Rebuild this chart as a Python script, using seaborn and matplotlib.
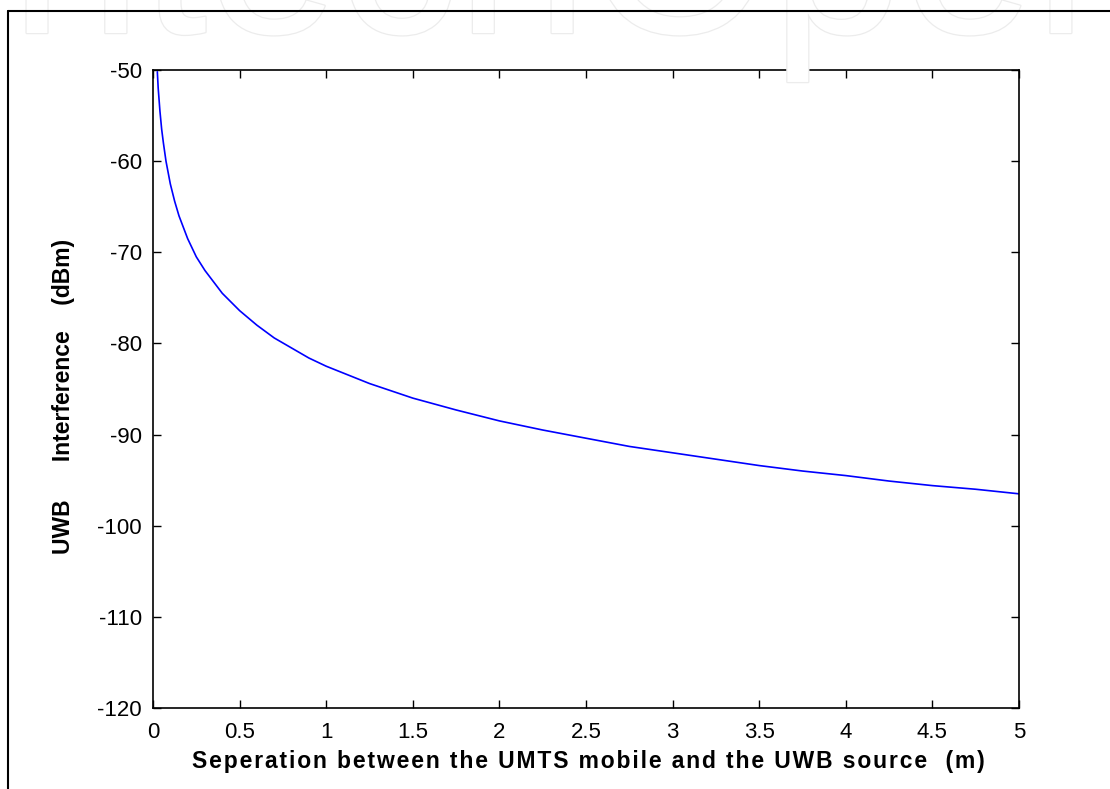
import matplotlib
matplotlib.use("Agg")
import matplotlib.pyplot as plt
import matplotlib.patheffects as pe
import seaborn as sns
import pandas as pd
from matplotlib.lines import Line2D

# Data
separation_m = [0.025, 0.03, 0.04, 0.05, 0.06, 0.075, 0.1, 0.125, 0.15, 0.2, 0.25,
                0.3, 0.4, 0.5, 0.6, 0.7, 0.8, 0.9, 1.0, 1.25, 1.5, 1.75, 2.0,
                2.25, 2.5, 2.75, 3.0, 3.25, 3.5, 3.75, 4.0, 4.25, 4.5, 4.75, 5.0]
interference_dbm = [-50.2, -52.0, -54.5, -56.5, -58.0, -60.0, -62.5, -64.4, -66.0,
                    -68.5, -70.5, -72.0, -74.5, -76.4, -78.0, -79.4, -80.5, -81.6,
                    -82.5, -84.4, -86.0, -87.3, -88.5, -89.5, -90.4, -91.3, -92.0,
                    -92.7, -93.4, -94.0, -94.5, -95.1, -95.6, -96.0, -96.5]
x_ticks = [0, 0.5, 1, 1.5, 2, 2.5, 3, 3.5, 4, 4.5, 5]
x_tick_labels = ["0", "0.5", "1", "1.5", "2", "2.5", "3", "3.5", "4", "4.5", "5"]
y_ticks = [-120, -110, -100, -90, -80, -70, -60, -50]
y_tick_labels = ["-120", "-110", "-100", "-90", "-80", "-70", "-60", "-50"]
x_label = "Seperation between the UMTS mobile and the UWB source  (m)"
y_label = "UWB      Interference    (dBm)"


def spaced(text, gap):
    if not gap:
        return text
    return gap.join(text)


sns.set_theme(style="ticks")
plt.rcParams["font.family"] = ["Liberation Sans", "DejaVu Sans"]

W, H = 1110, 789
fig = plt.figure(figsize=(W / 100, H / 100), dpi=100)

# faint watermark at the top
fig.text(0.5, 1 - 33 / H, "IntechOpen", ha="center", va="baseline",
         fontsize=170, color="white", zorder=0,
         path_effects=[pe.withStroke(linewidth=1.8, foreground="#ececec")])

# outer frame lines (left and top)
fig.add_artist(Line2D([8 / W, 8 / W], [0, 1 - 11 / H], transform=fig.transFigure,
                      color="black", lw=1.5))
fig.add_artist(Line2D([8 / W, 1], [1 - 11 / H, 1 - 11 / H], transform=fig.transFigure,
                      color="black", lw=1.5))

ax_l, ax_r, ax_t, ax_b = 153, 1019, 70, 708
ax = fig.add_axes([ax_l / W, 1 - ax_b / H, (ax_r - ax_l) / W, (ax_b - ax_t) / H])
df = pd.DataFrame({"sep": separation_m, "intf": interference_dbm})
sns.lineplot(data=df, x="sep", y="intf", ax=ax, color="#0000ff", lw=1.2)

ax.set_xlim(0, 5)
ax.set_ylim(-120, -50)
ax.set_xticks(x_ticks)
ax.set_xticklabels(x_tick_labels)
ax.set_yticks(y_ticks)
ax.set_yticklabels(y_tick_labels)
ax.tick_params(direction="in", length=6, width=1, labelsize=16, top=True, right=True,
               colors="black")
ax.tick_params(axis="x", pad=10)
ax.tick_params(axis="y", pad=8)
for s in ax.spines.values():
    s.set_visible(True)
    s.set_color("black")
    s.set_linewidth(1.2)

# x label: bold with widened letter spacing; pick spacing that best fits the reference width
target_w = 797
renderer = fig.canvas.get_renderer()
best = None
for gap in ["", "\u200a", "\u2006", "\u2009", "\u2005"]:
    ax.set_xlabel(spaced(x_label, gap), fontsize=16, fontweight="bold")
    w = ax.xaxis.label.get_window_extent(renderer).width
    if best is None or abs(w - target_w) < abs(best[1] - target_w):
        best = (gap, w)
gap, w = best
fs = 16 * max(0.92, min(1.08, target_w / w))
ax.set_xlabel(spaced(x_label, gap), fontsize=fs, fontweight="bold", color="black")
ax.xaxis.label.set_va("baseline")
ax.xaxis.set_label_coords((588.5 - ax_l) / (ax_r - ax_l), (ax_b - 768) / (ax_b - ax_t))

ax.set_ylabel(y_label, fontsize=16.5, fontweight="bold", color="black")
ax.yaxis.label.set_va("bottom")
ax.yaxis.set_label_coords((75 - ax_l) / (ax_r - ax_l), (ax_b - 396.5) / (ax_b - ax_t))

fig.savefig("out.png", dpi=100)
